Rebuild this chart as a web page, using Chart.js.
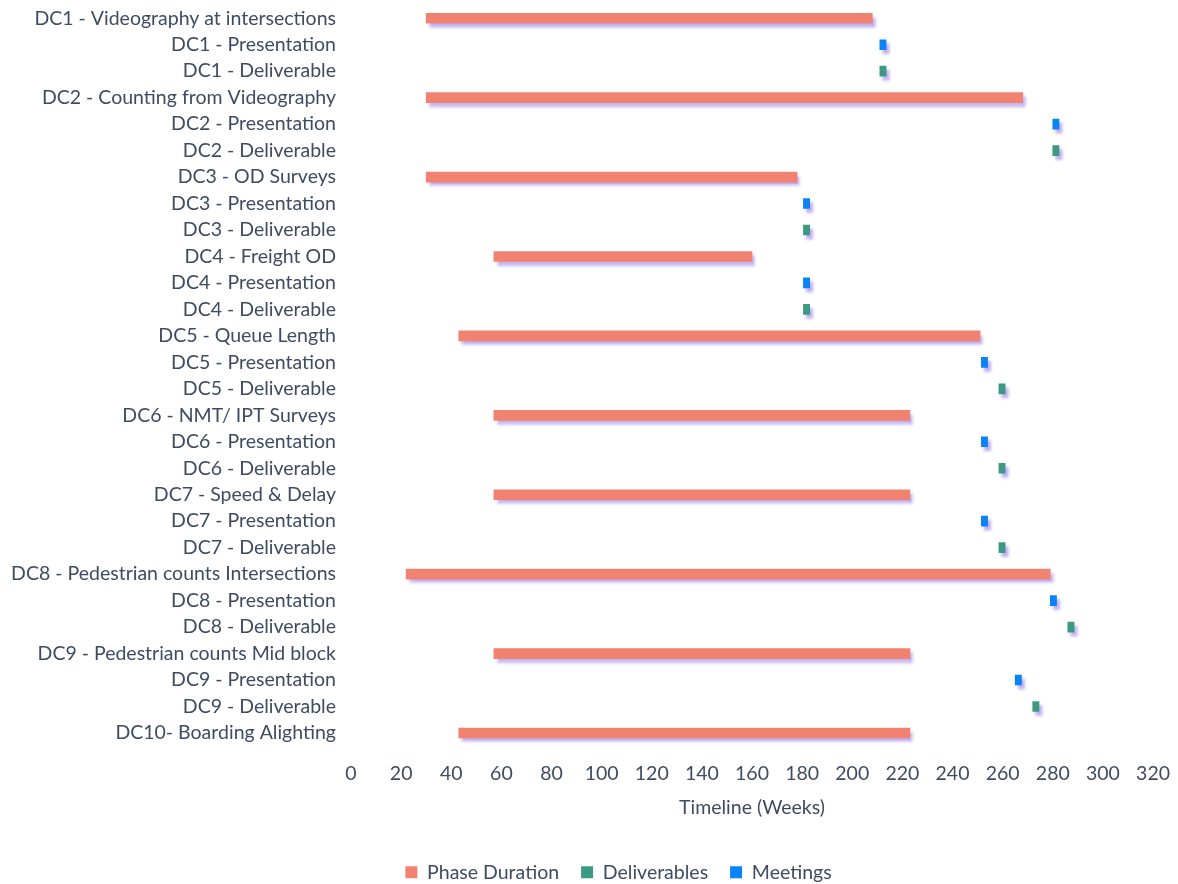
<!DOCTYPE html>
<html>
<head>
<meta charset="utf-8">
<title>Timeline</title>
<script src="https://cdn.jsdelivr.net/npm/chart.js@4.4.0/dist/chart.umd.min.js"></script>
<style>
  html, body { margin: 0; padding: 0; background: #fff; }
  #wrap { width: 1178px; height: 884px; }
</style>
</head>
<body>
<div id="wrap"><canvas id="timelineChart"></canvas></div>
<script>
// rows of the chart, top to bottom
const categories = [
    'DC1 - Videography at intersections', 'DC1 - Presentation', 'DC1 - Deliverable',
    'DC2 - Counting from Videography', 'DC2 - Presentation', 'DC2 - Deliverable',
    'DC3 - OD Surveys', 'DC3 - Presentation', 'DC3 - Deliverable',
    'DC4 - Freight OD', 'DC4 - Presentation', 'DC4 - Deliverable',
    'DC5 - Queue Length', 'DC5 - Presentation', 'DC5 - Deliverable',
    'DC6 - NMT/ IPT Surveys', 'DC6 - Presentation', 'DC6 - Deliverable',
    'DC7 - Speed & Delay', 'DC7 - Presentation', 'DC7 - Deliverable',
    'DC8 - Pedestrian counts Intersections', 'DC8 - Presentation', 'DC8 - Deliverable',
    'DC9 - Pedestrian counts Mid block', 'DC9 - Presentation', 'DC9 - Deliverable',
    'DC10- Boarding Alighting'
];

// [start week, end week]
const phaseDuration = [
    [30, 208], null, null,
    [30, 268], null, null,
    [30, 178], null, null,
    [57, 160], null, null,
    [43, 251], null, null,
    [57, 223], null, null,
    [57, 223], null, null,
    [22, 279], null, null,
    [57, 223], null, null,
    [43, 223]
];

const meetings = [
    null, [211, 213.5], null,
    null, [280, 282.5], null,
    null, [180.5, 183], null,
    null, [180.5, 183], null,
    null, [251.5, 254], null,
    null, [251.5, 254], null,
    null, [251.5, 254], null,
    null, [279, 281.5], null,
    null, [265, 267.5], null,
    null
];

const deliverables = [
    null, null, [211, 213.5],
    null, null, [280, 282.5],
    null, null, [180.5, 183],
    null, null, [180.5, 183],
    null, null, [258.5, 261],
    null, null, [258.5, 261],
    null, null, [258.5, 261],
    null, null, [286, 288.5],
    null, null, [272, 274.5],
    null
];

const textColor = '#3f4b62';
const font = { family: 'Lato', size: 19.5 };

// soft purple shadow under the bars, like the scanned original
const barShadow = {
    id: 'barShadow',
    beforeDatasetsDraw(chart) {
        const ctx = chart.ctx;
        ctx.save();
        ctx.shadowColor = 'rgba(140, 110, 225, 0.55)';
        ctx.shadowOffsetX = 3;
        ctx.shadowOffsetY = 4;
        ctx.shadowBlur = 3;
    },
    afterDatasetsDraw(chart) {
        chart.ctx.restore();
    }
};

// the legend sits a bit right of the canvas centre in the original
const legendShift = {
    id: 'legendShift',
    afterLayout(chart) {
        chart.legend.left += 39;
        chart.legend.right += 39;
    }
};

const ctx = document.getElementById('timelineChart').getContext('2d');
new Chart(ctx, {
    type: 'bar',
    data: {
        labels: categories,
        datasets: [{
            label: 'Phase Duration',
            data: phaseDuration,
            backgroundColor: '#f0826f',
            barThickness: 10,
            grouped: false
        }, {
            label: 'Deliverables',
            data: deliverables,
            backgroundColor: '#3c9a84',
            barThickness: 10,
            grouped: false
        }, {
            label: 'Meetings',
            data: meetings,
            backgroundColor: '#0a84f5',
            barThickness: 10,
            grouped: false
        }]
    },
    options: {
        indexAxis: 'y',
        responsive: true,
        maintainAspectRatio: false,
        animation: false,
        layout: { padding: { top: 5, right: 19, bottom: -8, left: 0 } },
        scales: {
            x: {
                min: 0,
                max: 320,
                ticks: { stepSize: 20, color: textColor, font: font, padding: 8 },
                grid: { display: false },
                border: { display: false },
                title: {
                    display: true,
                    text: 'Timeline (Weeks)',
                    color: textColor,
                    font: font,
                    padding: { top: 2.5, bottom: 21 }
                }
            },
            y: {
                ticks: { color: textColor, font: font, padding: 7, autoSkip: false },
                grid: { display: false },
                border: { display: false },
                afterFit(scale) {
                    scale.width = 351;
                    scale.paddingTop = 0;
                    scale.paddingBottom = 0;
                }
            }
        },
        plugins: {
            legend: {
                position: 'bottom',
                labels: {
                    color: textColor,
                    font: font,
                    boxWidth: 12,
                    boxHeight: 12,
                    padding: 22
                }
            },
            tooltip: { enabled: false }
        }
    },
    plugins: [barShadow, legendShift]
});
</script>
</body>
</html>
